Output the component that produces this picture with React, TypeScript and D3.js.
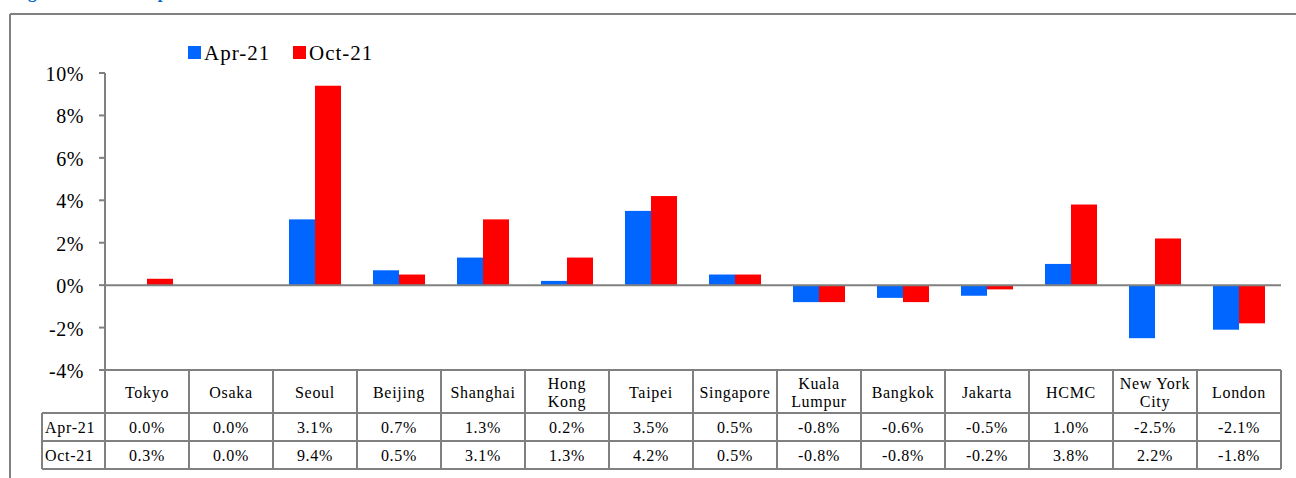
import React from "react";
import * as d3 from "d3";

// City rent changes, two survey periods
const cities = [
  "Tokyo", "Osaka", "Seoul", "Beijing", "Shanghai", "Hong Kong", "Taipei",
  "Singapore", "Kuala Lumpur", "Bangkok", "Jakarta", "HCMC", "New York City", "London",
];
const cityLines: string[][] = [
  ["Tokyo"], ["Osaka"], ["Seoul"], ["Beijing"], ["Shanghai"], ["Hong", "Kong"], ["Taipei"],
  ["Singapore"], ["Kuala", "Lumpur"], ["Bangkok"], ["Jakarta"], ["HCMC"], ["New York", "City"], ["London"],
];
const seriesNames = ["Apr-21", "Oct-21"];
const apr21 = [0.0, 0.0, 3.1, 0.7, 1.3, 0.2, 3.5, 0.5, -0.8, -0.6, -0.5, 1.0, -2.5, -2.1];
const oct21 = [0.3, 0.0, 9.4, 0.5, 3.1, 1.3, 4.2, 0.5, -0.8, -0.8, -0.2, 3.8, 2.2, -1.8];
const yTicks = [-4, -2, 0, 2, 4, 6, 8, 10];
const colors = ["#0066FF", "#FF0000"];

const W = 1296;
const H = 478;
const FONT = "'Liberation Serif', 'Times New Roman', serif";
const GRID = "#808080";

export default function App() {
  const series = [apr21, oct21];
  const x = d3.scaleBand<string>().domain(cities).range([105, 1281]).padding(0);
  const xs = d3.scaleBand<string>().domain(seriesNames).range([0, x.bandwidth()]).paddingInner(0).paddingOuter(0.615);
  const y = d3.scaleLinear().domain([-4, 10]).range([370, 73]);

  const tableTop = y(-4);
  const headBottom = 413;
  const row1Bottom = 441;
  const row2Bottom = 469;
  const labelLeft = 42;
  const plotLeft = x.range()[0];
  const plotRight = x.range()[1];
  const tableFont = 16;
  const tableSpacing = 0.7;

  return (
    <svg width={W} height={H} style={{ position: "absolute", left: 0, top: 0, background: "#fff" }} fontFamily={FONT}>
      <rect x={0} y={0} width={W} height={H} fill="#fff" />
      {/* figure caption */}
      <text x={13} y={-2} fill="#0066CC" fontWeight="bold" fontSize={17}>Figure 7: Rent Comparison</text>
      {/* frame */}
      <line x1={10} x2={W} y1={14} y2={14} stroke={GRID} strokeWidth={2} />
      <line x1={10} x2={10} y1={14} y2={H} stroke={GRID} strokeWidth={2} />

      {/* legend */}
      {seriesNames.map((s, i) => {
        const lx = [188, 293][i];
        return (
          <g key={s}>
            <rect x={lx} y={46} width={13} height={13} fill={colors[i]} />
            <text x={lx + 16} y={60} fontSize={21} letterSpacing={1} fill="#000">{s}</text>
          </g>
        );
      })}

      {/* y axis */}
      <line x1={plotLeft} x2={plotLeft} y1={y(10)} y2={row2Bottom} stroke={GRID} strokeWidth={2} />
      {yTicks.map((t) => (
        <g key={t}>
          <line x1={plotLeft - 6} x2={plotLeft} y1={y(t)} y2={y(t)} stroke={GRID} strokeWidth={2} />
          <text x={84} y={y(t) + 8} fontSize={20} letterSpacing={0.6} textAnchor="end" fill="#000">
            {`${t}%`}
          </text>
        </g>
      ))}

      {/* bars */}
      {cities.map((c, ci) =>
        seriesNames.map((s, si) => {
          const v = series[si][ci];
          const y0 = y(0);
          const y1 = y(v);
          return (
            <rect
              key={c + s}
              x={(x(c) ?? 0) + (xs(s) ?? 0)}
              y={Math.min(y0, y1)}
              width={xs.bandwidth()}
              height={Math.abs(y1 - y0)}
              fill={colors[si]}
            />
          );
        })
      )}

      {/* zero line */}
      <line x1={plotLeft} x2={plotRight} y1={y(0)} y2={y(0)} stroke={GRID} strokeWidth={2} />

      {/* data table */}
      <line x1={plotLeft} x2={plotRight} y1={tableTop} y2={tableTop} stroke={GRID} strokeWidth={2} />
      <line x1={labelLeft} x2={plotRight} y1={headBottom} y2={headBottom} stroke={GRID} strokeWidth={2} />
      <line x1={labelLeft} x2={plotRight} y1={row1Bottom} y2={row1Bottom} stroke={GRID} strokeWidth={2} />
      <line x1={labelLeft} x2={plotRight} y1={row2Bottom} y2={row2Bottom} stroke={GRID} strokeWidth={2} />
      <line x1={labelLeft} x2={labelLeft} y1={headBottom} y2={row2Bottom} stroke={GRID} strokeWidth={2} />
      {cities.map((c) => (
        <line key={"v" + c} x1={(x(c) ?? 0) + x.bandwidth()} x2={(x(c) ?? 0) + x.bandwidth()} y1={tableTop} y2={row2Bottom} stroke={GRID} strokeWidth={2} />
      ))}
      {cities.map((c, ci) => {
        const cx = (x(c) ?? 0) + x.bandwidth() / 2;
        const lines = cityLines[ci];
        const mid = (tableTop + headBottom) / 2;
        return (
          <g key={"h" + c}>
            {lines.map((ln, li) => (
              <text
                key={ln}
                x={cx}
                y={lines.length === 1 ? mid + 6 : mid - 3 + li * 18}
                fontSize={tableFont}
                letterSpacing={tableSpacing}
                textAnchor="middle"
                fill="#000"
              >
                {ln}
              </text>
            ))}
            {series.map((vals, si) => (
              <text
                key={si}
                x={cx}
                y={si === 0 ? (headBottom + row1Bottom) / 2 + 6 : (row1Bottom + row2Bottom) / 2 + 6}
                fontSize={tableFont}
                letterSpacing={tableSpacing}
                textAnchor="middle"
                fill="#000"
              >
                {`${vals[ci].toFixed(1)}%`}
              </text>
            ))}
          </g>
        );
      })}
      {seriesNames.map((s, si) => (
        <text
          key={"rl" + s}
          x={45}
          y={si === 0 ? (headBottom + row1Bottom) / 2 + 6 : (row1Bottom + row2Bottom) / 2 + 6}
          fontSize={tableFont}
          letterSpacing={tableSpacing}
          fill="#000"
        >
          {s}
        </text>
      ))}
    </svg>
  );
}
